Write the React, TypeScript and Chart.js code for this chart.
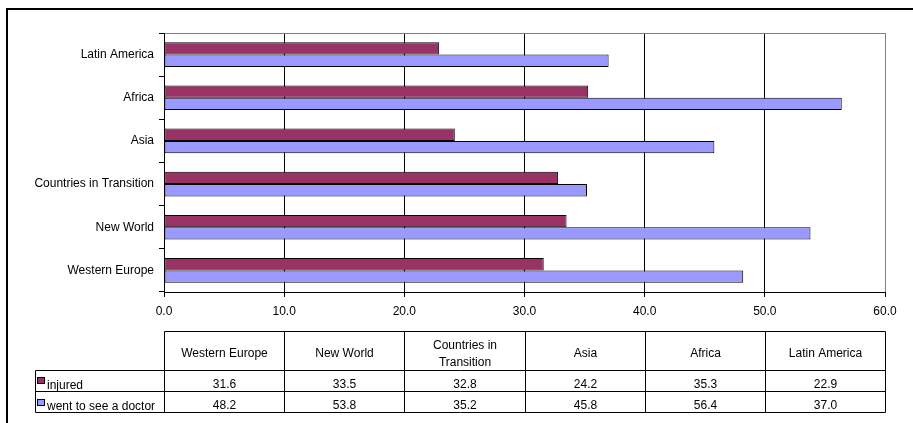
import React, { useEffect, useRef } from "react";
import { Chart, registerables } from "chart.js";

Chart.register(...registerables);

// Regions, bottom to top on the value chart and left to right in the table
const categories = [
  "Western Europe",
  "New World",
  "Countries in Transition",
  "Asia",
  "Africa",
  "Latin America",
];
const injured = [31.6, 33.5, 32.8, 24.2, 35.3, 22.9];
const wentToDoctor = [48.2, 53.8, 35.2, 45.8, 56.4, 37.0];
const seriesNames = ["injured", "went to see a doctor"];
const xTickValues = [0, 10, 20, 30, 40, 50, 60];

const MAROON = "#993366";
const LAVENDER = "#9999FF";
const FONT = '"Liberation Sans", Arial, sans-serif';

function wrapText(ctx: CanvasRenderingContext2D, text: string, maxW: number): string[] {
  const words = text.split(" ");
  const lines: string[] = [];
  let line = "";
  for (const w of words) {
    const test = line ? line + " " + w : w;
    if (ctx.measureText(test).width > maxW && line) {
      lines.push(line);
      line = w;
    } else {
      line = test;
    }
  }
  if (line) lines.push(line);
  return lines;
}

// Draws the outer frame, the plot's grey top edge and the data table under the axis
const tablePlugin = {
  id: "dataTable",
  afterDraw(chart: any) {
    const ctx: CanvasRenderingContext2D = chart.ctx;
    const { left, right, top } = chart.chartArea;
    ctx.save();

    // outer frame
    ctx.fillStyle = "#000";
    ctx.fillRect(6, 8, chart.width - 6, 2);
    ctx.fillRect(6, 8, 2, chart.height - 8);

    // grey top edge of the plot area
    ctx.strokeStyle = "#808080";
    ctx.lineWidth = 1;
    ctx.beginPath();
    ctx.moveTo(Math.round(left) + 0.5, Math.round(top) + 0.5);
    ctx.lineTo(Math.round(right) + 0.5, Math.round(top) + 0.5);
    ctx.stroke();

    // data table
    const n = categories.length;
    const colW = (right - left) / n;
    const bounds = Array.from({ length: n + 1 }, (_, i) => Math.round(left + i * colW) + 0.5);
    const headTop = 331.5;
    const row1 = 370.5;
    const row2 = 391.5;
    const bottom = 412.5;
    const legendLeft = 35.5;

    ctx.strokeStyle = "#000";
    ctx.beginPath();
    ctx.moveTo(bounds[0], headTop);
    ctx.lineTo(bounds[n], headTop);
    for (const y of [row1, row2, bottom]) {
      ctx.moveTo(legendLeft, y);
      ctx.lineTo(bounds[n], y);
    }
    for (const x of bounds) {
      ctx.moveTo(x, headTop);
      ctx.lineTo(x, bottom);
    }
    ctx.moveTo(legendLeft, row1);
    ctx.lineTo(legendLeft, bottom);
    ctx.stroke();

    ctx.font = "12px " + FONT;
    ctx.fillStyle = "#000";
    ctx.textBaseline = "alphabetic";
    ctx.textAlign = "center";
    categories.forEach((c, i) => {
      const cx = (bounds[i] + bounds[i + 1]) / 2;
      const lines = wrapText(ctx, c, colW - 20);
      if (lines.length === 1) {
        ctx.fillText(lines[0], cx, 357);
      } else {
        lines.forEach((l, k) => ctx.fillText(l, cx, 349 + k * 16.5));
      }
      ctx.fillText(injured[i].toFixed(1), cx, 388);
      ctx.fillText(wentToDoctor[i].toFixed(1), cx, 409);
    });

    // legend keys and series names
    const keys = [
      { color: MAROON, y: 377.5, base: 388 },
      { color: LAVENDER, y: 399.5, base: 409 },
    ];
    ctx.textAlign = "left";
    keys.forEach((k, i) => {
      ctx.fillStyle = k.color;
      ctx.fillRect(37.5, k.y, 7, 6);
      ctx.strokeStyle = "#000";
      ctx.strokeRect(37.5, k.y, 7, 6);
      ctx.fillStyle = "#000";
      ctx.fillText(seriesNames[i], 47, k.base + 1);
    });

    ctx.restore();
  },
};

export default function App() {
  const canvasRef = useRef<HTMLCanvasElement>(null);

  useEffect(() => {
    document.body.style.margin = "0";
    const canvas = canvasRef.current;
    if (!canvas) return;

    const chart = new Chart(canvas, {
      type: "bar",
      data: {
        labels: categories,
        datasets: [
          {
            label: seriesNames[0],
            data: injured,
            backgroundColor: MAROON,
            borderColor: "#000",
            borderWidth: 1,
            borderSkipped: false,
          },
          {
            label: seriesNames[1],
            data: wentToDoctor,
            backgroundColor: LAVENDER,
            borderColor: "#000",
            borderWidth: 1,
            borderSkipped: false,
          },
        ],
      },
      options: {
        indexAxis: "y",
        responsive: false,
        animation: false,
        devicePixelRatio: 1,
        categoryPercentage: 2 / 3.5,
        barPercentage: 1,
        layout: { padding: { top: 33, right: 28, bottom: 91, left: 0 } },
        plugins: {
          legend: { display: false },
          tooltip: { enabled: false },
        },
        scales: {
          x: {
            type: "linear",
            min: 0,
            max: 60,
            afterBuildTicks: (scale: any) => {
              scale.ticks = xTickValues.map((v) => ({ value: v }));
            },
            afterFit: (scale: any) => {
              scale.height = 40;
            },
            ticks: {
              color: "#000",
              font: { family: FONT, size: 12 },
              padding: 7,
              maxRotation: 0,
              callback: (v: any) => Number(v).toFixed(1),
            },
            grid: {
              color: (c: any) => (c.tick && c.tick.value === 60 ? "#808080" : "#000"),
              tickColor: "#000",
              tickLength: 5,
              lineWidth: 1,
            },
            border: { display: true, color: "#000" },
          },
          y: {
            reverse: true,
            afterFit: (scale: any) => {
              scale.width = 164;
            },
            ticks: {
              color: "#000",
              font: { family: FONT, size: 12 },
              padding: 5,
            },
            grid: {
              offset: true,
              drawOnChartArea: false,
              tickColor: "#000",
              tickLength: 5,
            },
            border: { display: true, color: "#000" },
          },
        },
      },
      plugins: [tablePlugin],
    });

    return () => chart.destroy();
  }, []);

  return (
    <canvas
      ref={canvasRef}
      width={913}
      height={423}
      style={{ display: "block", width: 913, height: 423 }}
    />
  );
}
